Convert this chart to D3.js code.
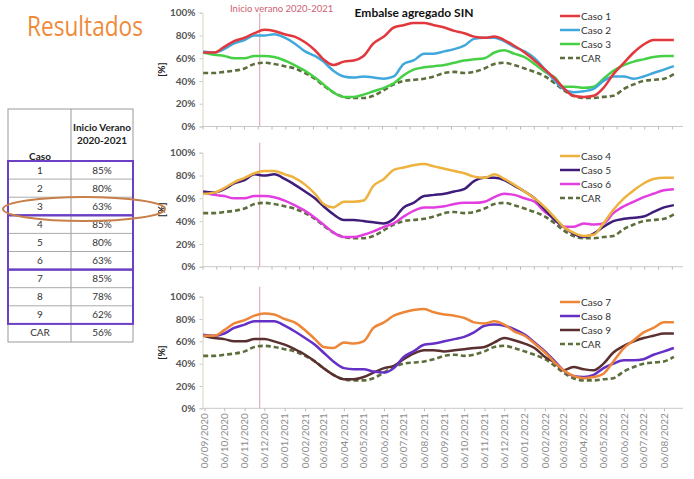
<!DOCTYPE html>
<html><head><meta charset="utf-8">
<script src="https://cdn.jsdelivr.net/npm/d3@7"></script>
<style>
html,body{margin:0;padding:0;background:#fff;}
svg{display:block;}
</style></head>
<body>
<svg id="chart" width="694" height="479"></svg>
<script>
// ---------- DATA ----------
const dates = ["2020-09-04","2020-09-21","2020-10-06","2020-10-21","2020-11-06","2020-11-21","2020-12-06","2020-12-21",
"2021-01-06","2021-01-21","2021-02-06","2021-02-21","2021-03-06","2021-03-21","2021-04-06","2021-04-21",
"2021-05-06","2021-05-21","2021-06-06","2021-06-21","2021-07-06","2021-07-21","2021-08-06","2021-08-21",
"2021-09-06","2021-09-21","2021-10-06","2021-10-21","2021-11-06","2021-11-21","2021-12-06","2021-12-21",
"2022-01-06","2022-01-21","2022-02-06","2022-02-21","2022-03-06","2022-03-21","2022-04-06","2022-04-21",
"2022-05-06","2022-05-21","2022-06-06","2022-06-21","2022-07-06","2022-07-21","2022-08-06","2022-08-21"];

const caso1 = [65,65,70,75,78,82,85,84,81,79,74,67,59,54,57,58,62,73,79,87,89,91,91,89,87,84,82,79,78,79,76,71,65,58,50,42,34,27,26,27,34,46,56,65,72,76,76,76];
const caso2 = [66,65,68,73,76,80,80,81,78,73,66,62,57,49,44,43,44,43,42,44,55,58,64,64,66,68,71,77,78,78,75,70,66,60,50,40,33,30,31,33,40,44,44,42,44,47,50,53];
const caso3 = [65,63,62,60,60,62,62,61,58,54,49,43,37,30,26,26,28,31,34,38,45,50,52,53,54,56,58,59,60,65,67,64,61,55,48,43,35,35,34,35,42,49,54,57,59,61,62,62];
const caso4 = [64,65,69,74,78,82,84,84,81,78,72,64,55,52,57,57,58,71,77,85,87,89,90,88,86,84,82,79,78,81,77,72,66,60,52,43,35,30,27,28,38,50,60,67,73,77,78,78];
const caso5 = [66,65,68,73,76,81,80,81,77,72,66,60,53,46,41,41,40,39,38,42,52,56,62,63,64,66,68,75,78,78,76,71,66,60,50,41,35,29,26,29,35,40,42,43,44,48,52,54];
const caso6 = [65,63,62,60,60,62,62,61,58,54,49,43,37,30,26,26,28,31,35,38,44,49,52,52,53,55,56,56,57,61,64,63,60,57,48,42,35,35,38,37,38,47,53,57,61,64,67,68];
const caso7 = [65,65,70,76,79,83,85,84,80,77,70,62,55,54,59,58,60,72,77,83,86,88,89,86,84,83,81,77,76,78,75,69,65,58,50,41,34,29,27,28,31,42,54,61,68,72,77,77];
const caso8 = [66,65,67,72,75,78,78,78,74,69,63,57,50,42,36,35,35,33,32,36,46,51,57,58,60,62,64,68,74,75,74,71,66,59,51,42,34,29,28,30,36,40,43,43,44,48,51,54];
const caso9 = [65,63,62,60,60,62,62,60,57,53,48,42,36,30,26,26,28,32,36,38,44,49,52,52,51,52,53,54,55,59,63,61,58,54,46,41,34,37,35,34,40,50,56,60,63,65,67,67];
const car   = [47,47,48,49,51,55,56,55,53,51,47,42,36,30,26,25,25,27,32,37,40,41,42,44,47,48,47,48,51,55,56,54,51,48,44,38,32,27,25,25,26,27,33,37,40,41,42,46];

const tickLabels = ["06/09/2020","06/10/2020","06/11/2020","06/12/2020","06/01/2021","06/02/2021","06/03/2021","06/04/2021",
"06/05/2021","06/06/2021","06/07/2021","06/08/2021","06/09/2021","06/10/2021","06/11/2021","06/12/2021",
"06/01/2022","06/02/2022","06/03/2022","06/04/2022","06/05/2022","06/06/2022","06/07/2022","06/08/2022"];

const yTicks = [0,20,40,60,80,100];
const summerStart = "2020-11-29";

const tableCases = ["1","2","3","4","5","6","7","8","9","CAR"];
const tableValues = ["85%","80%","63%","85%","80%","63%","85%","78%","62%","56%"];

const panelSeries = [
  [{name:"Caso 1", v:caso1, c:"#e2383d"},{name:"Caso 2", v:caso2, c:"#40a8dc"},{name:"Caso 3", v:caso3, c:"#46d046"}],
  [{name:"Caso 4", v:caso4, c:"#eeb23e"},{name:"Caso 5", v:caso5, c:"#3e1e7a"},{name:"Caso 6", v:caso6, c:"#e23ee0"}],
  [{name:"Caso 7", v:caso7, c:"#ee8638"},{name:"Caso 8", v:caso8, c:"#6430c6"},{name:"Caso 9", v:caso9, c:"#5a2f2f"}]
];

// ---------- DRAW ----------
const svg = d3.select("#chart");
const parse = d3.timeParse("%Y-%m-%d");
const parseTick = d3.timeParse("%d/%m/%Y");
const X = dates.map(parse);
const narrow = "'Liberation Sans Narrow', Lato, 'Open Sans', sans-serif";

const x = d3.scaleTime()
  .domain([parseTick("06/09/2020"), parseTick("06/08/2022")])
  .range([204.5, 664]);
const axisStart = 202.5, axisEnd = 683;

const panels = [
  {top:12.7, bottom:126.5, legendY:16},
  {top:152.7, bottom:266.7, legendY:156},
  {top:296.7, bottom:408.3, legendY:302}
];

// Title
svg.append("text").attr("x",27).attr("y",36)
  .attr("font-family","'Open Sans', sans-serif").attr("font-size",27)
  .attr("fill","#ef8a3a").attr("textLength",116).attr("lengthAdjust","spacingAndGlyphs")
  .text("Resultados");

svg.append("text").attr("x",414).attr("y",17).attr("text-anchor","middle")
  .attr("font-family",narrow).attr("font-weight","bold").attr("font-size",12)
  .attr("fill","#111").text("Embalse agregado SIN");

svg.append("text").attr("x",230).attr("y",12)
  .attr("font-family",narrow).attr("font-size",9.5)
  .attr("fill","#cc5f72").text("Inicio verano 2020-2021");

panels.forEach((p,pi)=>{
  const y = d3.scaleLinear().domain([0,100]).range([p.bottom,p.top]);
  const g = svg.append("g");

  // vertical summer line
  const sx = x(parse(summerStart));
  g.append("line").attr("x1",sx).attr("x2",sx)
    .attr("y1", pi===0 ? p.top : p.top-10).attr("y2",p.bottom)
    .attr("stroke","#e29aa6").attr("stroke-width",1);

  // y axis
  const ya = d3.axisLeft(y).tickValues(yTicks).tickFormat(d=>d+"%").tickSize(3).tickPadding(4);
  const yg = g.append("g").attr("transform",`translate(${axisStart},0)`).call(ya);
  yg.select(".domain").attr("stroke","#d6d6bf");
  yg.selectAll(".tick line").attr("stroke","#c8c8c8");
  yg.selectAll("text").attr("font-family",narrow).attr("font-size",10).attr("font-weight","bold").attr("fill","#555");

  // [%]
  g.append("text").attr("transform",`translate(165,${(p.top+p.bottom)/2}) rotate(-90)`)
    .attr("text-anchor","middle").attr("font-family",narrow).attr("font-weight","bold")
    .attr("font-size",10).attr("fill","#222").text("[%]");

  // x axis
  const xg = g.append("g").attr("transform",`translate(0,${p.bottom})`);
  xg.append("line").attr("x1",axisStart).attr("x2",axisEnd).attr("y1",0).attr("y2",0).attr("stroke","#c9c9c9");
  if(pi<2){
    const tv = d3.range(0,36).map(k=>d3.timeDay.offset(x.invert(axisStart),21*k)).filter(d=>x(d)<=axisEnd);
    const xa = d3.axisBottom(x).tickValues(tv).tickSize(3).tickFormat("");
    const a = xg.append("g").call(xa);
    a.select(".domain").remove();
    a.selectAll(".tick line").attr("stroke","#bbb");
  } else {
    const tv = tickLabels.map(parseTick);
    const xa = d3.axisBottom(x).tickValues(tv).tickSize(3).tickFormat((d,i)=>tickLabels[i]);
    const a = xg.append("g").call(xa);
    a.select(".domain").remove();
    a.selectAll(".tick line").attr("stroke","#bbb");
    a.selectAll("text").attr("transform","rotate(-90)").attr("text-anchor","end")
      .attr("x",-5).attr("y",0).attr("dy","0.35em")
      .attr("font-family",narrow).attr("font-size",9).attr("fill","#8e8e8e")
      .attr("textLength",55).attr("lengthAdjust","spacingAndGlyphs");
  }

  const line = d3.line().x((d,i)=>x(X[i])).y(d=>y(d)).curve(d3.curveMonotoneX);

  // CAR dashed
  g.append("path").attr("d",line(car)).attr("fill","none")
    .attr("stroke","#5c6e3c").attr("stroke-width",2.6).attr("stroke-dasharray","5,3");
  panelSeries[pi].slice().reverse().forEach(s=>{
    g.append("path").attr("d",line(s.v)).attr("fill","none")
      .attr("stroke",s.c).attr("stroke-width",2.5).attr("stroke-linejoin","round");
  });

  // legend
  const leg = panelSeries[pi].concat([{name:"CAR", c:"#5c6e3c", dash:true}]);
  leg.forEach((s,k)=>{
    const ly = p.legendY + 14*k;
    g.append("line").attr("x1",560).attr("x2",580).attr("y1",ly).attr("y2",ly)
      .attr("stroke",s.c).attr("stroke-width",2.5).attr("stroke-dasharray",s.dash?"5,3":null);
    g.append("text").attr("x",581).attr("y",ly).attr("dy","0.35em")
      .attr("font-family",narrow).attr("font-size",10).attr("fill","#333").text(s.name);
  });
});

// ---------- TABLE ----------
const tL=8, tM=71, tR=133, tTop=109, hBot=161, rh=18.1;
const tg = svg.append("g");
tg.append("rect").attr("x",tL).attr("y",tTop).attr("width",tR-tL).attr("height",hBot+rh*10-tTop)
  .attr("fill","none").attr("stroke","#999").attr("stroke-width",1);
tg.append("line").attr("x1",tM).attr("x2",tM).attr("y1",tTop).attr("y2",hBot+rh*10).attr("stroke","#999");
d3.range(0,10).forEach(k=>{
  tg.append("line").attr("x1",tL).attr("x2",tR).attr("y1",hBot+rh*k).attr("y2",hBot+rh*k).attr("stroke","#aaa");
});
tg.append("text").attr("x",102).attr("y",131).attr("text-anchor","middle")
  .attr("font-family",narrow).attr("font-weight","bold").attr("font-size",10).attr("fill","#222").text("Inicio Verano");
tg.append("text").attr("x",102).attr("y",144).attr("text-anchor","middle")
  .attr("font-family",narrow).attr("font-weight","bold").attr("font-size",10).attr("fill","#222").text("2020-2021");
tg.append("text").attr("x",40).attr("y",159.5).attr("text-anchor","middle")
  .attr("font-family",narrow).attr("font-weight","bold").attr("font-size",10).attr("fill","#222").text("Caso");
tableCases.forEach((c,k)=>{
  const cy = hBot + rh*k + rh/2;
  tg.append("text").attr("x",40).attr("y",cy).attr("dy","0.35em").attr("text-anchor","middle")
    .attr("font-family",narrow).attr("font-size",10).attr("fill","#333").text(c);
  tg.append("text").attr("x",102).attr("y",cy).attr("dy","0.35em").attr("text-anchor","middle")
    .attr("font-family",narrow).attr("font-size",10).attr("fill","#333").text(tableValues[k]);
});
[0,3,6].forEach(k=>{
  tg.append("rect").attr("x",tL).attr("y",hBot+rh*k).attr("width",tR-tL).attr("height",rh*3)
    .attr("fill","none").attr("stroke","#6b40c4").attr("stroke-width",2);
});
tg.append("ellipse").attr("cx",84).attr("cy",209).attr("rx",81).attr("ry",12)
  .attr("fill","none").attr("stroke","#c87f4a").attr("stroke-width",2);
</script>
</body></html>
